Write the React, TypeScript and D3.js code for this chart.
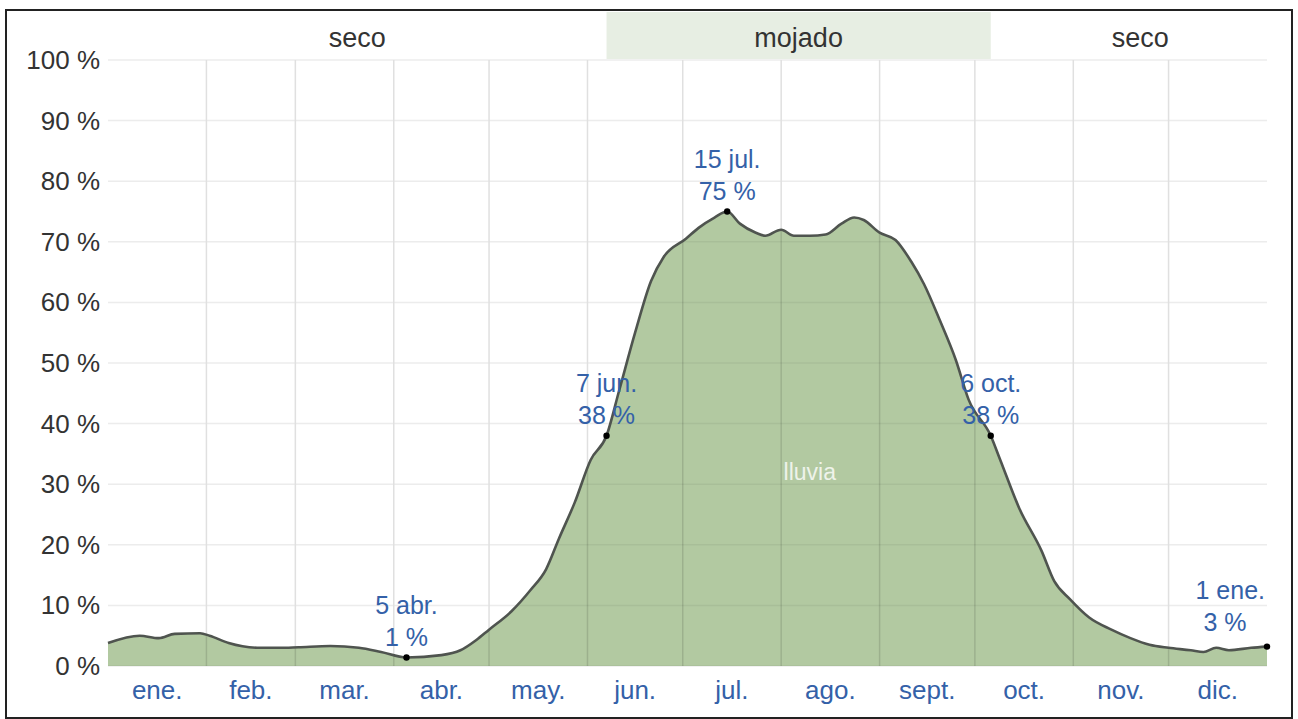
import React from "react";
import * as d3 from "d3";

const days = [0, 10, 16, 21, 29, 32, 38, 48, 54, 60, 70, 79, 86, 94, 105, 111, 116, 120, 127, 133, 138, 142, 147, 152, 157, 161, 166, 171, 175, 182, 186, 191, 195, 199, 204, 207, 212, 216, 221, 226, 231, 235, 238, 243, 248, 253, 257, 262, 267, 271, 278, 281, 287, 294, 298, 303, 309, 316, 322, 328, 334, 341, 345, 349, 353, 360, 365];
const rain = [3.8, 5.0, 4.6, 5.3, 5.4, 5.0, 3.8, 3.0, 3.0, 3.1, 3.3, 3.0, 2.3, 1.4, 1.8, 2.6, 4.3, 6.0, 9.0, 12.5, 16.0, 21.0, 27.0, 34.0, 38.0, 45.5, 55.0, 63.5, 67.5, 70.5, 72.3, 74.0, 75.0, 73.0, 71.5, 71.0, 72.0, 71.0, 71.0, 71.2, 73.0, 74.0, 73.6, 71.5, 70.3, 66.7, 63.0, 57.0, 50.5, 44.0, 38.0, 34.0, 26.0, 19.0, 14.0, 11.0, 8.0, 6.0, 4.6, 3.5, 3.0, 2.6, 2.3, 3.0, 2.6, 3.0, 3.2];

const monthStarts = [0, 31, 59, 90, 120, 151, 181, 212, 243, 273, 304, 334, 365];
const monthLabels = ["ene.", "feb.", "mar.", "abr.", "may.", "jun.", "jul.", "ago.", "sept.", "oct.", "nov.", "dic."];
const yTicks = [0, 10, 20, 30, 40, 50, 60, 70, 80, 90, 100];

const seasonNames = ["seco", "mojado", "seco"];
const seasonStart = [0, 157, 278];
const seasonEnd = [157, 278, 365];
const seasonWet = [false, true, false];

const annDays = [94, 157, 195, 278, 365];
const annValues = [1.4, 38, 75, 38, 3.2];
const annDate = ["5 abr.", "7 jun.", "15 jul.", "6 oct.", "1 ene."];
const annPct = ["1 %", "38 %", "75 %", "38 %", "3 %"];
const annAnchor = ["middle", "middle", "middle", "middle", "end"];

export default function App() {
  const W = 1298, H = 719;
  const x = d3.scaleLinear().domain([0, 365]).range([108, 1267]);
  const y = d3.scaleLinear().domain([0, 100]).range([666, 60]);
  const pts = days.map((d, i) => [d, rain[i]] as [number, number]);
  const area = d3.area<[number, number]>().x(d => x(d[0])).y0(y(0)).y1(d => y(d[1])).curve(d3.curveMonotoneX);
  const line = d3.line<[number, number]>().x(d => x(d[0])).y(d => y(d[1])).curve(d3.curveMonotoneX);
  const font = "Arial, 'Liberation Sans', sans-serif";
  const blue = "#3461a8";
  const areaD = area(pts) || "";
  return (
    <svg width={W} height={H} style={{ position: "absolute", left: 0, top: 0 }} fontFamily={font}>
      <defs>
        <clipPath id="areaClip"><path d={areaD} /></clipPath>
      </defs>
      <rect x={0} y={0} width={W} height={H} fill="#fff" />
      {seasonNames.map((s, i) => {
        const x0 = x(seasonStart[i]);
        const x1 = i === seasonNames.length - 1 ? 1290 : x(seasonEnd[i]);
        return (
          <g key={"s" + i}>
            {seasonWet[i] && <rect x={x0} y={12} width={x(seasonEnd[i]) - x0} height={47} fill="#e7eee3" />}
            <text x={(x0 + x1) / 2} y={47} textAnchor="middle" fontSize={27} fill="#333">{s}</text>
          </g>
        );
      })}
      {yTicks.map(t => (
        <line key={"hg" + t} x1={x(0)} x2={x(365)} y1={y(t)} y2={y(t)} stroke="#ececec" strokeWidth={1.5} />
      ))}
      {monthStarts.slice(1, 12).map(m => (
        <line key={"vg" + m} x1={x(m)} x2={x(m)} y1={y(100)} y2={y(0)} stroke="#e0e0e0" strokeWidth={1.5} />
      ))}
      <path d={areaD} fill="#b2c9a1" />
      <g clipPath="url(#areaClip)">
        {yTicks.map(t => (
          <line key={"hg2" + t} x1={x(0)} x2={x(365)} y1={y(t)} y2={y(t)} stroke="rgba(0,0,0,0.05)" strokeWidth={1.5} />
        ))}
        {monthStarts.slice(1, 12).map(m => (
          <line key={"vg2" + m} x1={x(m)} x2={x(m)} y1={y(100)} y2={y(0)} stroke="rgba(0,0,0,0.12)" strokeWidth={1.5} />
        ))}
      </g>
      <path d={line(pts) || ""} fill="none" stroke="#4f544f" strokeWidth={2.6} strokeLinejoin="round" />
      <text x={x(221)} y={y(31) + 2} textAnchor="middle" fontSize={23} fill="#eef3ea">lluvia</text>
      {yTicks.map(t => (
        <text key={"yl" + t} x={100} y={y(t) + 9} textAnchor="end" fontSize={26} fill="#333">{t} %</text>
      ))}
      {monthLabels.map((m, i) => (
        <text key={"ml" + i} x={x((monthStarts[i] + monthStarts[i + 1]) / 2)} y={699} textAnchor="middle" fontSize={26} fill={blue}>{m}</text>
      ))}
      {annDays.map((d, i) => (
        <g key={"a" + i}>
          <circle cx={x(d)} cy={y(annValues[i])} r={3.2} fill="#000" />
          <text x={annAnchor[i] === "end" ? x(d) - 2 : x(d)} y={y(annValues[i]) - (annAnchor[i] === "end" ? 48 : 44)} textAnchor={annAnchor[i] as any} fontSize={25} fill={blue}>{annDate[i]}</text>
          <text x={annAnchor[i] === "end" ? x(d) - 42 : x(d)} y={y(annValues[i]) - (annAnchor[i] === "end" ? 16 : 12)} textAnchor="middle" fontSize={25} fill={blue}>{annPct[i]}</text>
        </g>
      ))}
      <rect x={6} y={10} width={1286} height={708} fill="none" stroke="#222" strokeWidth={2} />
    </svg>
  );
}
